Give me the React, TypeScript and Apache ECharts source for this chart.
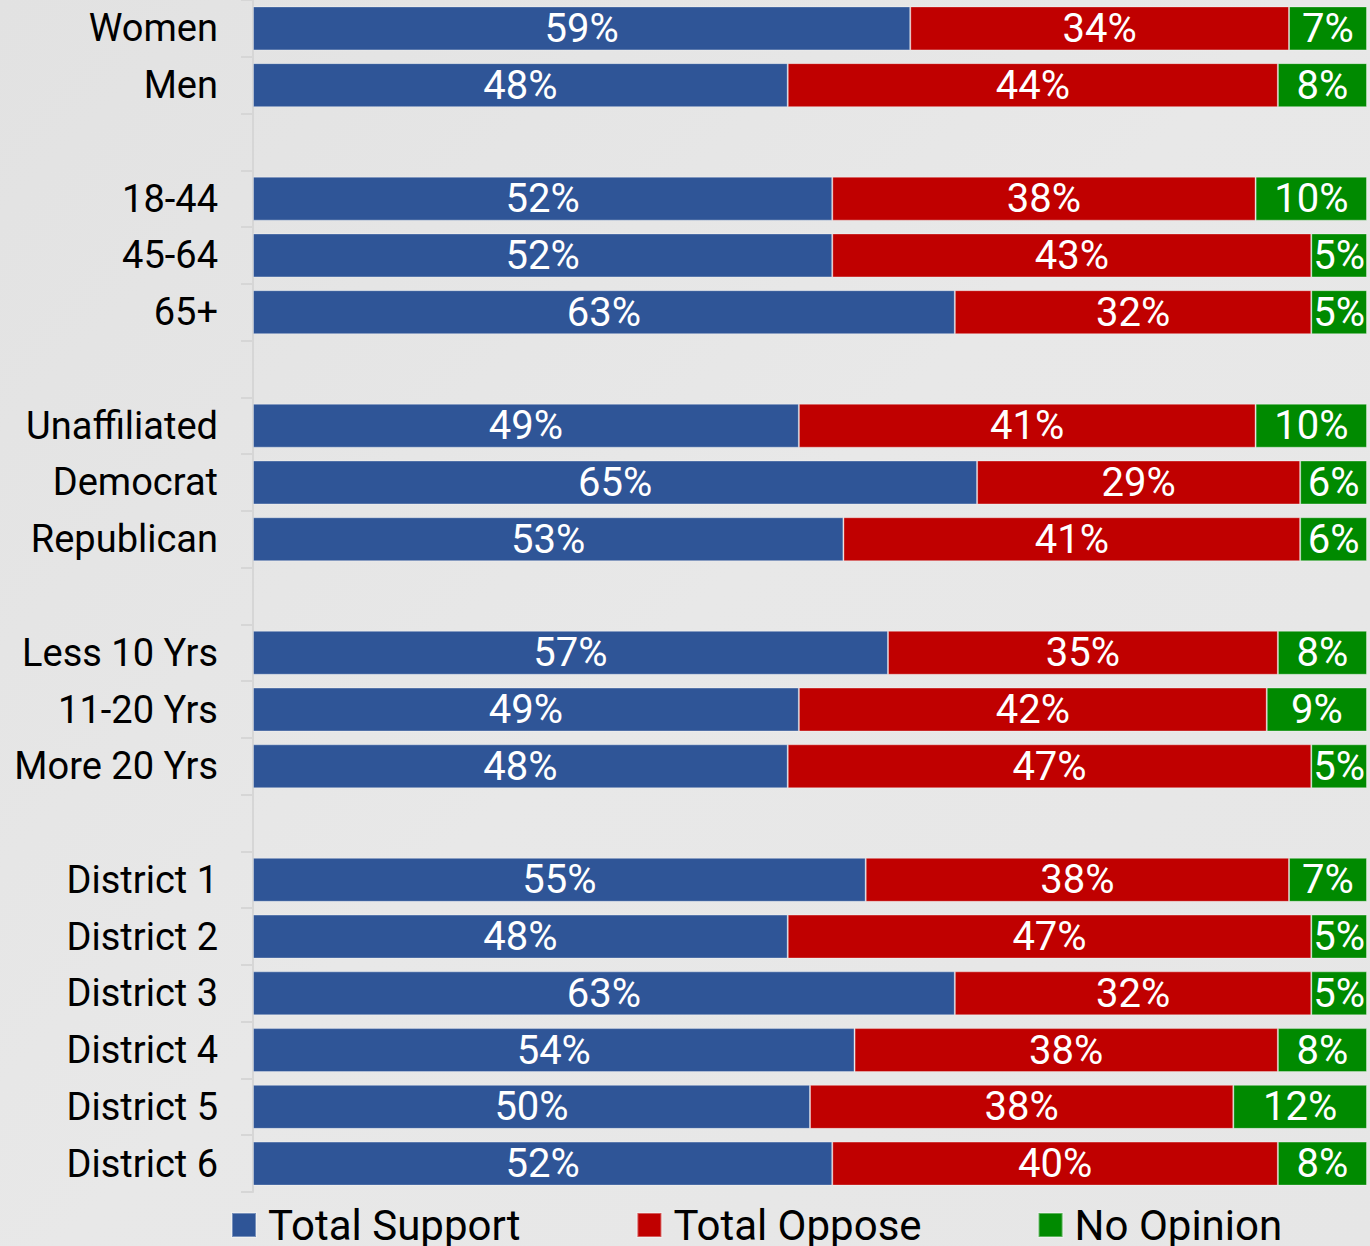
import React, { useEffect, useRef } from "react";
import * as echarts from "echarts";

const categories = [
  "Women", "Men", "",
  "18-44", "45-64", "65+", " ",
  "Unaffiliated", "Democrat", "Republican", "  ",
  "Less 10 Yrs", "11-20 Yrs", "More 20 Yrs", "   ",
  "District 1", "District 2", "District 3", "District 4", "District 5", "District 6",
];
const support = [59, 48, null, 52, 52, 63, null, 49, 65, 53, null, 57, 49, 48, null, 55, 48, 63, 54, 50, 52];
const oppose = [34, 44, null, 38, 43, 32, null, 41, 29, 41, null, 35, 42, 47, null, 38, 47, 32, 38, 38, 40];
const noOpinion = [7, 8, null, 10, 5, 5, null, 10, 6, 6, null, 8, 9, 5, null, 7, 5, 5, 8, 12, 8];
const seriesNames = ["Total Support", "Total Oppose", "No Opinion"];
const colors = ["#2F5597", "#C00000", "#008A00"];

export default function App() {
  const ref = useRef<HTMLDivElement>(null);
  useEffect(() => {
    if (!ref.current) return;
    document.body.style.margin = "0";
    const chart = echarts.init(ref.current, null, { renderer: "svg" });
    const mk = (name: string, data: (number | null)[], color: string) => ({
      name,
      type: "bar",
      stack: "total",
      data,
      barWidth: 44,
      itemStyle: { color, borderColor: "rgba(255,255,255,0.35)", borderWidth: 1 },
      label: {
        show: true,
        position: "inside",
        formatter: (p: any) => (p.value == null ? "" : p.value + "%"),
        color: "#fff",
        fontSize: 40,
        fontFamily: "Roboto",
      },
    });
    chart.setOption({
      animation: false,
      color: colors,
      grid: { left: 253, right: 3, top: 0, bottom: 54, containLabel: false },
      xAxis: { type: "value", min: 0, max: 100, show: false },
      yAxis: {
        type: "category",
        data: categories,
        inverse: true,
        axisLine: { show: true, lineStyle: { color: "#d6d6d6", width: 2 } },
        axisTick: { show: true, length: 12, lineStyle: { color: "#d6d6d6", width: 2 } },
        axisLabel: { margin: 35, color: "#000", fontSize: 38, fontFamily: "Roboto" },
      },
      legend: {
        left: 231,
        top: 1204,
        padding: 0,
        icon: "rect",
        itemWidth: 24,
        itemHeight: 24,
        itemGap: 116,
        textStyle: { color: "#000", fontSize: 42, fontFamily: "Roboto", padding: [0, 0, 0, 7] },
        data: seriesNames,
      },
      series: [
        mk(seriesNames[0], support, colors[0]),
        mk(seriesNames[1], oppose, colors[1]),
        mk(seriesNames[2], noOpinion, colors[2]),
      ],
    });
    return () => chart.dispose();
  }, []);
  return (
    <div
      ref={ref}
      style={{
        position: "absolute",
        left: 0,
        top: 0,
        width: 1370,
        height: 1246,
        background: "linear-gradient(135deg, #e2e2e2 0%, #e8e8e8 50%, #e6e6e6 100%)",
      }}
    />
  );
}
